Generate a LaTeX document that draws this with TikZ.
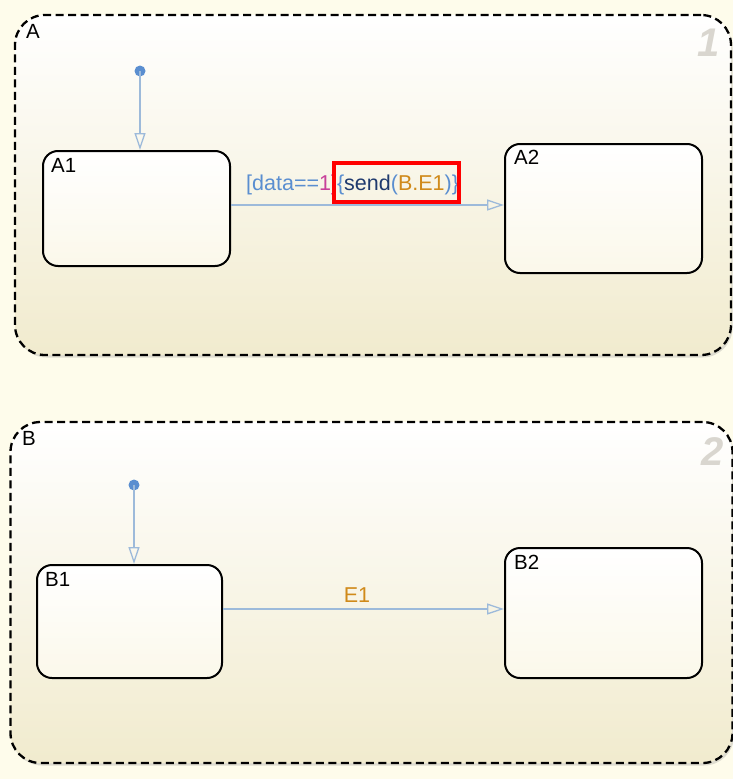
\documentclass[tikz,border=0pt]{standalone}
\usepackage{fontspec}
\setmainfont{Liberation Sans}
\usetikzlibrary{arrows.meta,shadows}
\definecolor{bgc}{HTML}{FEFCEB}
\definecolor{creambot}{HTML}{F1EBCE}
\definecolor{innerbot}{HTML}{FBF8EA}
\definecolor{trc}{HTML}{9DBADA}
\definecolor{dotc}{HTML}{5A8ED0}
\definecolor{lblue}{HTML}{5A8ED0}
\definecolor{lmag}{HTML}{C8409A}
\definecolor{lnavy}{HTML}{1F3A6E}
\definecolor{lorange}{HTML}{D08A1A}
\definecolor{numgray}{HTML}{D9D6CF}
\tikzset{
  superstate/.style={draw=black, line width=2.3pt, dash pattern=on 8pt off 4.5pt,
    rounded corners=30pt, top color=white, bottom color=creambot,
    drop shadow={shadow xshift=1.5pt, shadow yshift=-2.5pt, opacity=0.25}},
  stbox/.style={draw=black, line width=2pt, rounded corners=15pt,
    top color=white, bottom color=innerbot},
  stname/.style={anchor=north west, inner sep=0pt, font=\fontsize{20.5}{22}\selectfont},
  trans/.style={draw=trc, line width=1.4pt, -{Triangle[open,length=17pt,width=11pt,line width=1.3pt]}},
  initdot/.style={circle, fill=dotc, inner sep=0pt, minimum size=11pt},
  numlbl/.style={inner sep=0pt, text=numgray, font=\fontsize{40}{40}\selectfont\bfseries\itshape},
  tlbl/.style={inner sep=0pt, font=\fontsize{21.5}{24}\selectfont}
}
\begin{document}
\begin{tikzpicture}[x=1pt,y=-1pt]
\fill[bgc] (0,0) rectangle (733,779);
\useasboundingbox (0,0) rectangle (733,779);
% superstate A
\node[superstate, minimum width=716pt, minimum height=340pt] (A) at (373,185) {};
\node[stname] (Alab) at (26,24) {A};
\node[numlbl] (Anum) at (709,43) {1};
% superstate B
\node[superstate, minimum width=722pt, minimum height=341pt] (B) at (371.5,592.5) {};
\node[stname] (Blab) at (22,431) {B};
\node[numlbl] (Bnum) at (713,452) {2};
% states
\node[stbox, minimum width=187pt, minimum height=115pt] (A1) at (136.5,208.5) {};
\node[stname] (A1lab) at (51,158) {A1};
\node[stbox, minimum width=197pt, minimum height=129pt] (A2) at (603.5,208.5) {};
\node[stname] (A2lab) at (514,150) {A2};
\node[stbox, minimum width=185pt, minimum height=113pt] (B1) at (129.5,621.5) {};
\node[stname] (B1lab) at (45,572) {B1};
\node[stbox, minimum width=197pt, minimum height=130pt] (B2) at (603.5,613) {};
\node[stname] (B2lab) at (514,555) {B2};
% initial transitions
\node[initdot] (dA) at (140,71) {};
\draw[trans] (dA.center) -- (dA.center |- A1.north);
\node[initdot] (dB) at (134,485) {};
\draw[trans] (dB.center) -- (dB.center |- B1.north);
% transitions
\coordinate (tA) at (230,205);
\draw[trans] (A1.east |- tA) -- (A2.west |- tA);
\node[tlbl, anchor=base west] (tAlab) at (246,190) {\textcolor{lblue}{[data==}\textcolor{lmag}{1]}\textcolor{lblue}{\{}\textcolor{lnavy}{send}\textcolor{lblue}{(}\textcolor{lorange}{B.E1}\textcolor{lblue}{)\}}};
\node[draw=red, line width=4pt, minimum width=125pt, minimum height=39pt, inner sep=0pt] (hl) at (396.5,182.5) {};
\coordinate (tB) at (222,609);
\draw[trans] (B1.east |- tB) -- (B2.west |- tB);
\node[tlbl, anchor=base, text=lorange] (tBlab) at (357,602) {E1};
\end{tikzpicture}
\end{document}
